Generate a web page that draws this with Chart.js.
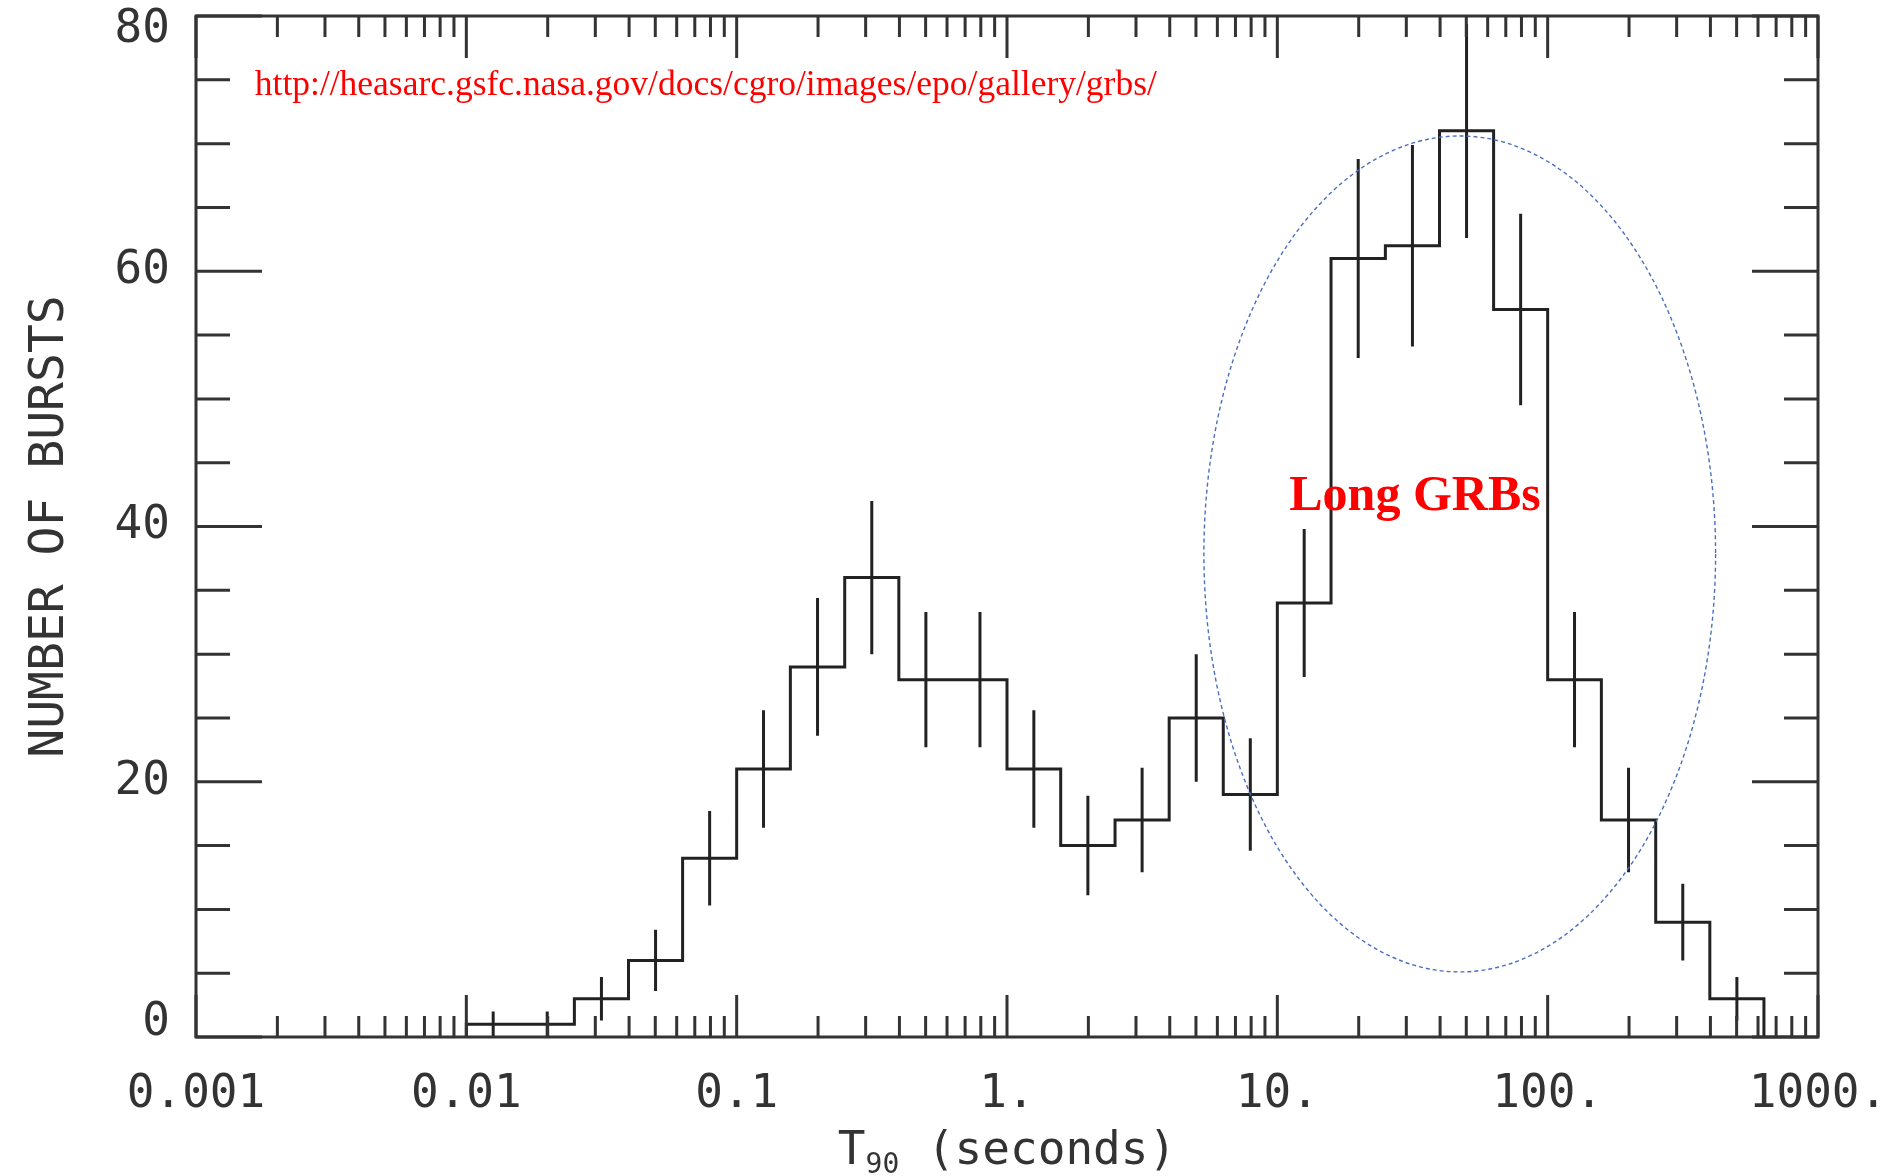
<!DOCTYPE html>
<html>
<head>
<meta charset="utf-8">
<title>BATSE T90 distribution</title>
<script src="https://cdn.jsdelivr.net/npm/chart.js@4.4.1/dist/chart.umd.min.js"></script>
<style>
    html, body { margin: 0; padding: 0; background: #fff; }
    #wrap { width: 1897px; height: 1176px; }
</style>
</head>
<body>
<div id="wrap"><canvas id="chart-t90" width="1897" height="1176"></canvas></div>
<script>
/* ---- data ---- */

// histogram bin edges (seconds), 0.2 dex wide
const binEdges = [0.01, 0.0158, 0.0251, 0.0398, 0.0631, 0.1, 0.158, 0.251, 0.398, 0.631,
                  1, 1.58, 2.51, 3.98, 6.31, 10, 15.8, 25.1, 39.8, 63.1,
                  100, 158, 251, 398, 631];

// number of bursts per bin
const counts = [1, 1, 3, 6, 14, 21, 29, 36, 28, 28,
                21, 15, 17, 25, 19, 34, 61, 62, 71, 57,
                28, 17, 9, 3];

// half length of the error bars
const errors = [1.0, 1.0, 1.7, 2.4, 3.7, 4.6, 5.4, 6.0, 5.3, 5.3,
                4.6, 3.9, 4.1, 5.0, 4.4, 5.8, 7.8, 7.9, 8.4, 7.5,
                5.3, 4.1, 3.0, 1.7];

// axes
const xMajorTicks = [0.001, 0.01, 0.1, 1, 10, 100, 1000];
const xTickLabels = ['0.001', '0.01', '0.1', '1.', '10.', '100.', '1000.'];
const yTickValues = [0, 20, 40, 60, 80];

// annotations
const urlText = 'http://heasarc.gsfc.nasa.gov/docs/cgro/images/epo/gallery/grbs/';
const longLabel = 'Long GRBs';

/* ---- styling ---- */
const LINE_COLOR = '#222';
const AXIS_COLOR = '#333';
const AXIS_FONT = '"DejaVu Sans Mono", monospace';

// histogram outline as a stepped line, dropping to zero on both ends
const stepPoints = [{ x: binEdges[0], y: 0 }];
counts.forEach((c, i) => stepPoints.push({ x: binEdges[i], y: c }));
stepPoints.push({ x: binEdges[binEdges.length - 1], y: counts[counts.length - 1] });
stepPoints.push({ x: binEdges[binEdges.length - 1], y: 0 });

// frame with inward ticks on all four sides + error bars
const framePlugin = {
    id: 'frame',
    beforeDraw(chart) {
        // PGPLOT style: end labels of the y axis are pulled inside the frame
        const items = chart.scales.y.getLabelItems();
        items.forEach(it => {
            if (it._shifted) return;
            if (it.label === '80') it.options.translation[1] += 14;
            if (it.label === '0') it.options.translation[1] -= 14;
            it._shifted = true;
        });
    },
    afterDatasetsDraw(chart) {
        const { ctx, chartArea: a, scales: { x, y } } = chart;
        ctx.save();

        // error bars
        ctx.strokeStyle = LINE_COLOR;
        ctx.lineWidth = 3;
        ctx.beginPath();
        counts.forEach((c, i) => {
            const xc = x.getPixelForValue(Math.sqrt(binEdges[i] * binEdges[i + 1]));
            ctx.moveTo(xc, y.getPixelForValue(c - errors[i]));
            ctx.lineTo(xc, y.getPixelForValue(c + errors[i]));
        });
        ctx.stroke();

        // frame
        ctx.strokeStyle = AXIS_COLOR;
        ctx.lineWidth = 3;
        ctx.strokeRect(a.left, a.top, a.right - a.left, a.bottom - a.top);

        // x ticks: decades long, 2..9 short
        ctx.beginPath();
        xMajorTicks.forEach((d, k) => {
            for (let m = 1; m <= 9; m++) {
                if (k === xMajorTicks.length - 1 && m > 1) break;
                const px = x.getPixelForValue(d * m);
                const len = m === 1 ? 42 : 21;
                ctx.moveTo(px, a.bottom); ctx.lineTo(px, a.bottom - len);
                ctx.moveTo(px, a.top); ctx.lineTo(px, a.top + len);
            }
        });
        // y ticks every 5, labelled ones long
        for (let v = 0; v <= 80; v += 5) {
            const py = y.getPixelForValue(v);
            const len = yTickValues.includes(v) ? 66 : 34;
            ctx.moveTo(a.left, py); ctx.lineTo(a.left + len, py);
            ctx.moveTo(a.right, py); ctx.lineTo(a.right - len, py);
        }
        ctx.stroke();
        ctx.restore();
    },
    afterDraw(chart) {
        const { ctx, chartArea: a, scales: { x, y } } = chart;
        ctx.save();

        // x axis title with a real subscript
        ctx.fillStyle = AXIS_COLOR;
        ctx.textBaseline = 'alphabetic';
        ctx.textAlign = 'left';
        const big = '46px ' + AXIS_FONT, small = '28px ' + AXIS_FONT;
        ctx.font = big;
        const wT = ctx.measureText('T').width;
        const wRest = ctx.measureText(' (seconds)').width;
        ctx.font = small;
        const wSub = ctx.measureText('90').width;
        let tx = (a.left + a.right) / 2 - (wT + wSub + wRest) / 2;
        const ty = x.bottom - 12;
        ctx.font = big;
        ctx.fillText('T', tx, ty);
        tx += wT;
        ctx.font = small;
        ctx.fillText('90', tx, ty + 9);
        tx += wSub;
        ctx.font = big;
        ctx.fillText(' (seconds)', tx, ty);

        // dashed ellipse round the long bursts
        const x0 = x.getPixelForValue(5.35), x1 = x.getPixelForValue(418);
        const y0 = y.getPixelForValue(70.6), y1 = y.getPixelForValue(5.1);
        ctx.strokeStyle = '#4a6fc0';
        ctx.lineWidth = 1.4;
        ctx.setLineDash([4, 3]);
        ctx.beginPath();
        ctx.ellipse((x0 + x1) / 2, (y0 + y1) / 2, (x1 - x0) / 2, (y1 - y0) / 2, 0, 0, Math.PI * 2);
        ctx.stroke();
        ctx.setLineDash([]);

        // red notes
        ctx.fillStyle = '#ff0000';
        ctx.textAlign = 'left';
        ctx.font = '35.5px "Liberation Serif", serif';
        ctx.fillText(urlText, x.getPixelForValue(0.00165), y.getPixelForValue(73.8));

        ctx.textAlign = 'center';
        ctx.font = 'bold 50px "Liberation Serif", serif';
        ctx.fillText(longLabel, x.getPixelForValue(32.3), y.getPixelForValue(41.3));
        ctx.restore();
    }
};

new Chart(document.getElementById('chart-t90'), {
    type: 'line',
    data: {
        datasets: [{
            data: stepPoints,
            stepped: 'before',
            borderColor: LINE_COLOR,
            borderWidth: 3,
            pointRadius: 0,
            fill: false
        }]
    },
    options: {
        responsive: false,
        devicePixelRatio: 1,
        animation: false,
        layout: { padding: { top: 16, right: 79, bottom: 0, left: 0 } },
        plugins: {
            legend: { display: false },
            tooltip: { enabled: false }
        },
        scales: {
            x: {
                type: 'logarithmic',
                min: 0.001,
                max: 1000,
                grid: { display: false },
                border: { display: false },
                afterBuildTicks: scale => {
                    scale.ticks = xMajorTicks.map(v => ({ value: v }));
                },
                afterFit: scale => {
                    scale.height = 139;
                    scale.paddingLeft = 0;
                    scale.paddingRight = 0;
                },
                ticks: {
                    autoSkip: false,
                    maxRotation: 0,
                    padding: 22,
                    color: AXIS_COLOR,
                    font: { family: AXIS_FONT, size: 46 },
                    callback: (value, index) => xTickLabels[index]
                }
            },
            y: {
                min: 0,
                max: 80,
                grid: { display: false },
                border: { display: false },
                afterBuildTicks: scale => {
                    scale.ticks = yTickValues.map(v => ({ value: v }));
                },
                afterFit: scale => {
                    scale.width = 196;
                    scale.paddingTop = 0;
                    scale.paddingBottom = 0;
                },
                ticks: {
                    padding: 18,
                    color: AXIS_COLOR,
                    font: { family: AXIS_FONT, size: 46 }
                },
                title: {
                    display: true,
                    text: 'NUMBER OF BURSTS',
                    color: AXIS_COLOR,
                    font: { family: AXIS_FONT, size: 48 },
                    padding: { top: 22, bottom: 0 }
                }
            }
        }
    },
    plugins: [framePlugin]
});
</script>
</body>
</html>
